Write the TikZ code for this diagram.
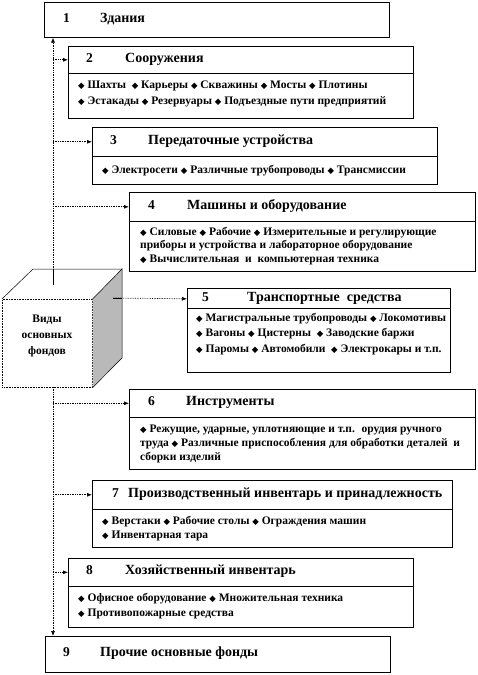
\documentclass[tikz,border=0pt]{standalone}
\usepackage{fontspec}
\setmainfont{Liberation Serif}
\newfontfamily\symfont{DejaVu Sans}
\usetikzlibrary{arrows.meta}
\definecolor{cubeside}{RGB}{185,185,185}
\newcommand\dmd{{\symfont\fontsize{8.5}{8.5}\selectfont ◆}}
\tikzset{
  boxpart/.style={draw=black, line width=0.6pt, fill=white, anchor=north west, inner sep=0pt},
  numtxt/.style={anchor=west, inner sep=0pt, text height=0.7em, text depth=0.2em, font=\fontsize{13.5}{15}\selectfont\bfseries},
  ttltxt/.style={anchor=west, inner sep=0pt, text height=0.7em, text depth=0.2em, font=\fontsize{14}{15}\selectfont\bfseries},
  itemtxt/.style={anchor=west, inner sep=0pt, text height=0.72em, text depth=0.2em, font=\fontsize{11.5}{13}\selectfont\bfseries},
  conn/.style={densely dotted, line width=0.7pt, -{Latex[length=5pt,width=4pt]}},
}
\begin{document}
\begin{tikzpicture}[x=1pt,y=-1pt]
\useasboundingbox (0,0) rectangle (478,675);
% ---- Cube
\node[draw=black, line width=0.6pt, densely dotted, minimum width=90pt, minimum height=88pt, inner sep=0pt, anchor=north west] (cube) at (2,299) {};
\fill[cubeside] (cube.north east) -- (122,269) -- (122,358) -- (cube.south east) -- cycle;
\draw[line width=0.5pt] (cube.north east) -- (122,269) -- (122,358) -- (cube.south east);
\draw[line width=0.5pt] (cube.north west) -- (33,269) -- (122,269);
\node[align=center, inner sep=0pt, font=\fontsize{11.5}{16}\selectfont\bfseries] (cubetxt) at (47,336) {Виды\\основных\\фондов};
% ---- Box 1
\node[boxpart, minimum width=345pt, minimum height=35pt] (h1) at (44,2) {};
\node[numtxt] (n1) at ([xshift=19pt]h1.west) {1};
\node[ttltxt] (t1) at ([xshift=56pt]h1.west) {Здания};
% ---- Box 2
\node[boxpart, minimum width=345pt, minimum height=27pt] (h2) at (68,46) {};
\node[boxpart, minimum width=345pt, minimum height=45pt] (d2) at (68,73) {};
\node[numtxt] (n2) at ([xshift=18pt]h2.west) {2};
\node[ttltxt] (t2) at ([xshift=57pt]h2.west) {Сооружения};
\node[itemtxt] (i2a) at (78,86) {\dmd\ Шахты \ \dmd\ Карьеры \dmd\ Скважины \dmd\ Мосты \dmd\ Плотины};
\node[itemtxt] (i2b) at (78,102) {\dmd\ Эстакады \dmd\ Резервуары \dmd\ Подъездные пути предприятий};
% ---- Box 3
\node[boxpart, minimum width=345pt, minimum height=29pt] (h3) at (92,127) {};
\node[boxpart, minimum width=345pt, minimum height=28pt] (d3) at (92,156) {};
\node[numtxt] (n3) at ([xshift=18pt]h3.west) {3};
\node[ttltxt] (t3) at ([xshift=56pt]h3.west) {Передаточные устройства};
\node[itemtxt] (i3a) at (102,171) {\dmd\ Электросети \dmd\ Различные трубопроводы \dmd\ Трансмиссии};
% ---- Box 4
\node[boxpart, minimum width=346pt, minimum height=29pt] (h4) at (129,192) {};
\node[boxpart, minimum width=346pt, minimum height=50pt] (d4) at (129,221) {};
\node[numtxt] (n4) at ([xshift=19pt]h4.west) {4};
\node[ttltxt] (t4) at ([xshift=58pt]h4.west) {Машины и оборудование};
\node[itemtxt] (i4a) at (140,233) {\dmd\ Силовые \dmd\ Рабочие \dmd\ Измерительные и регулирующие};
\node[itemtxt] (i4b) at (140,246) {приборы и устройства и лабораторное оборудование};
\node[itemtxt] (i4c) at (140,260) {\dmd\ Вычислительная \ и \ компьютерная техника};
% ---- Box 5
\node[boxpart, minimum width=263pt, minimum height=21pt] (h5) at (187,288) {};
\node[boxpart, minimum width=263pt, minimum height=64pt] (d5) at (187,308) {};
\node[numtxt] (n5) at ([xshift=15pt]h5.west) {5};
\node[ttltxt] (t5) at ([xshift=60pt]h5.west) {Транспортные \ средства};
\node[itemtxt] (i5a) at (196,319) {\dmd\ Магистральные трубопроводы \dmd\ Локомотивы};
\node[itemtxt] (i5b) at (196,334) {\dmd\ Вагоны \dmd\ Цистерны \ \dmd\ Заводские баржи};
\node[itemtxt] (i5c) at (196,350) {\dmd\ Паромы \dmd\ Автомобили \ \dmd\ Электрокары и т.п.};
% ---- Box 6
\node[boxpart, minimum width=346pt, minimum height=28pt] (h6) at (129,389) {};
\node[boxpart, minimum width=346pt, minimum height=52pt] (d6) at (129,417) {};
\node[numtxt] (n6) at ([xshift=19pt]h6.west) {6};
\node[ttltxt] (t6) at ([xshift=57pt]h6.west) {Инструменты};
\node[itemtxt] (i6a) at (140,430) {\dmd\ Режущие, ударные, уплотняющие и т.п. \ орудия ручного};
\node[itemtxt] (i6b) at (140,444) {труда \dmd\ Различные приспособления для обработки деталей \ и};
\node[itemtxt] (i6c) at (140,458) {сборки изделий};
% ---- Box 7
\node[boxpart, minimum width=360pt, minimum height=29pt] (h7) at (92,480) {};
\node[boxpart, minimum width=360pt, minimum height=38pt] (d7) at (92,509) {};
\node[numtxt] (n7) at ([xshift=20pt]h7.west) {7};
\node[ttltxt] (t7) at ([xshift=36pt]h7.west) {Производственный инвентарь и принадлежность};
\node[itemtxt] (i7a) at (102,522) {\dmd\ Верстаки \dmd\ Рабочие столы \dmd\ Ограждения машин};
\node[itemtxt] (i7b) at (102,536) {\dmd\ Инвентарная тара};
% ---- Box 8
\node[boxpart, minimum width=345pt, minimum height=28pt] (h8) at (68,558) {};
\node[boxpart, minimum width=345pt, minimum height=41pt] (d8) at (68,586) {};
\node[numtxt] (n8) at ([xshift=18pt]h8.west) {8};
\node[ttltxt] (t8) at ([xshift=57pt]h8.west) {Хозяйственный инвентарь};
\node[itemtxt] (i8a) at (78,599) {\dmd\ Офисное оборудование \dmd\ Множительная техника};
\node[itemtxt] (i8b) at (78,614) {\dmd\ Противопожарные средства};
% ---- Box 9
\node[boxpart, minimum width=345pt, minimum height=36pt] (h9) at (45,636) {};
\node[numtxt] (n9) at ([xshift=18pt]h9.west) {9};
\node[ttltxt] (t9) at ([xshift=55pt]h9.west) {Прочие основные фонды};
% ---- Connectors
\coordinate (ct) at (53,285);
\coordinate (cb) at (53,387);
\coordinate (cr) at (113,298);
\draw[line width=0.7pt] (ct) -- (53,270);
\draw[conn] (ct) -- (ct |- h1.south);
\draw[conn] (ct |- h2.west) -- (h2.west);
\draw[conn] (ct |- h3.west) -- (h3.west);
\draw[conn] (ct |- h4.west) -- (h4.west);
\draw[line width=0.7pt] (cr) -- (122,298);
\draw[conn] (cr) -- (h5.west);
\draw[conn] (cb) -- (cb |- h9.north);
\draw[conn] (cb |- h6.west) -- (h6.west);
\draw[conn] (cb |- h7.west) -- (h7.west);
\draw[conn] (cb |- h8.west) -- (h8.west);
\end{tikzpicture}
\end{document}
